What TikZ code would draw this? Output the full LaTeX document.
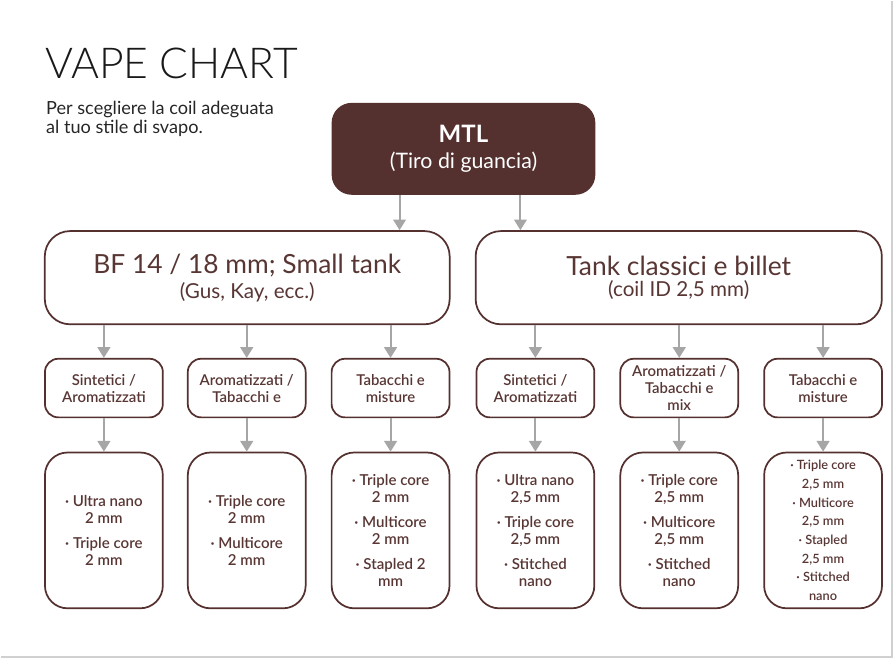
\documentclass[tikz,border=0pt]{standalone}
\usepackage{fontspec}
\setmainfont{Lato}
\newfontfamily\lightfont{Lato Light}
\newfontfamily\semifont{Lato Semibold}
\usetikzlibrary{arrows.meta,positioning,calc}
\definecolor{choc_brown}{RGB}{84, 48, 47}
\definecolor{ink_brown}{RGB}{88, 54, 52}
\definecolor{arrow_gray}{RGB}{166, 166, 166}
\definecolor{frame_gray}{RGB}{208, 208, 208}

\begin{document}
\begin{tikzpicture}[
    % Styles
    x=0.75pt, y=-0.75pt,
    >={Triangle[width=9.5pt,length=8pt]},
    % Blocks
    top_block/.style={
        rectangle,
        fill=choc_brown,
        text=white,
        rounded corners=15pt,
        minimum width=198pt,
        minimum height=69pt,
        align=center
    },
    tank_block/.style={
        rectangle,
        draw=choc_brown,
        line width=1.3pt,
        text=ink_brown,
        rounded corners=19pt,
        minimum height=70pt,
        align=center
    },
    liquid_block/.style={
        rectangle,
        draw=choc_brown,
        line width=1.3pt,
        text=ink_brown,
        rounded corners=10pt,
        minimum width=88.5pt,
        minimum height=44pt,
        inner sep=1pt,
        align=center,
        font=\semifont\fontsize{11.2pt}{12.75pt}\selectfont
    },
    coil_block/.style={
        rectangle,
        draw=choc_brown,
        line width=1.3pt,
        text=ink_brown,
        rounded corners=17pt,
        minimum width=88.5pt,
        minimum height=117pt,
        inner sep=1pt,
        align=center,
        font=\semifont\fontsize{11.3pt}{12.75pt}\selectfont
    },
    coil_small/.style={
        coil_block,
        font=\semifont\fontsize{9.6pt}{14pt}\selectfont
    },
    feed/.style={
        ->,
        draw=arrow_gray,
        line width=1.5pt
    }
]

% --- PAGE EDGE ---
\draw[frame_gray, line width=1.5pt] (0,657) -- (892,657) -- (892,0);
\useasboundingbox (0,0) rectangle (894,662);

% --- HEADER ---
\node[anchor=base west, inner sep=0pt, font=\lightfont\fontsize{32pt}{36pt}\selectfont, text=black!90] (title) at (44,78) {VAPE CHART};
\node[anchor=north west, inner sep=0pt, align=left, text=black!85,
      font=\fontsize{13.6pt}{14.6pt}\selectfont] (subtitle) at (45,100) {Per scegliere la coil adeguata\\al tuo stile di svapo.};

% --- LEVEL 1 ---
\node[top_block] (mtl) at (463,148) {%
    {\fontsize{18pt}{18pt}\bfseries\selectfont MTL}\\[6pt]
    {\fontsize{16pt}{16pt}\selectfont (Tiro di guancia)}};

% --- LEVEL 2 ---
\node[tank_block, minimum width=304pt] (small) at (246.5,277) {%
    {\fontsize{19.8pt}{20pt}\selectfont BF 14 / 18 mm; Small tank}\\[3pt]
    {\fontsize{15.5pt}{15.5pt}\selectfont (Gus, Kay, ecc.)}};
\node[tank_block, minimum width=305pt] (classic) at (678.5,277) {%
    {\fontsize{19.8pt}{20pt}\selectfont Tank classici e billet}\\[3pt]
    {\fontsize{15.5pt}{15.5pt}\selectfont (coil ID 2,5 mm)}};

% --- LEVEL 3 ---
\node[liquid_block] (liq1) at (103,387.5) {Sintetici /\\Aromatizzati};
\node[liquid_block] (liq2) at (246,387.5) {Aromatizzati /\\Tabacchi e};
\node[liquid_block] (liq3) at (390,387.5) {Tabacchi e\\misture};
\node[liquid_block] (liq4) at (535,387.5) {Sintetici /\\Aromatizzati};
\node[liquid_block] (liq5) at (679,387.5) {Aromatizzati /\\Tabacchi e\\mix};
\node[liquid_block] (liq6) at (823,387.5) {Tabacchi e\\misture};

% --- LEVEL 4 ---
\node[coil_block] (coil1) at (103,530) {· Ultra nano\\2 mm\\[6pt]· Triple core\\2 mm};
\node[coil_block] (coil2) at (246,530) {· Triple core\\2 mm\\[6pt]· Multicore\\2 mm};
\node[coil_block] (coil3) at (390,530) {· Triple core\\2 mm\\[6pt]· Multicore\\2 mm\\[6pt]· Stapled 2\\mm};
\node[coil_block] (coil4) at (535,530) {· Ultra nano\\2,5 mm\\[6pt]· Triple core\\2,5 mm\\[6pt]· Stitched\\nano};
\node[coil_block] (coil5) at (679,530) {· Triple core\\2,5 mm\\[6pt]· Multicore\\2,5 mm\\[6pt]· Stitched\\nano};
\node[coil_small] (coil6) at (823,530) {· Triple core\\2,5 mm\\· Multicore\\2,5 mm\\· Stapled\\2,5 mm\\· Stitched\\nano};

% --- ARROWS ---
\coordinate (split_l) at (399,0);
\coordinate (split_r) at (520,0);
\draw[feed] (mtl.south -| split_l) -- (small.north -| split_l);
\draw[feed] (mtl.south -| split_r) -- (classic.north -| split_r);

\foreach \i in {1,2,3} {
    \draw[feed] (small.south -| liq\i.north) -- (liq\i.north);
}
\foreach \i in {4,5,6} {
    \draw[feed] (classic.south -| liq\i.north) -- (liq\i.north);
}
\foreach \i in {1,...,6} {
    \draw[feed] (liq\i.south) -- (coil\i.north);
}

\end{tikzpicture}
\end{document}
